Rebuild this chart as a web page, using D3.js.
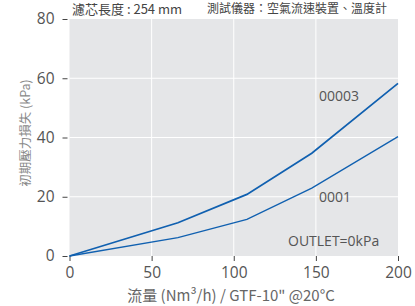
<!DOCTYPE html>
<html><head><meta charset="utf-8">
<script src="https://cdn.jsdelivr.net/npm/d3@7"></script>
<style>
body{margin:0;background:#fff;}
svg{display:block;}
</style></head>
<body>
<svg id="c" width="415" height="306"></svg>
<script>
const flow = [0, 66, 108, 147.5, 200];
const series00003 = [0, 11.2, 20.8, 34.7, 58.3];
const series0001 = [0, 6.2, 12.4, 22.9, 40.3];
const xTicks = [0, 50, 100, 150, 200];
const yTicks = [0, 20, 40, 60, 80];
const seriesNames = ["00003", "0001"];

const svg = d3.select("#c");
const x = d3.scaleLinear().domain([0, 200]).range([69.5, 398]);
const y = d3.scaleLinear().domain([0, 80]).range([256, 19]);
const numFont = "'Liberation Sans Narrow','Open Sans',sans-serif";
const cjk = "'Noto Sans CJK TC','Noto Sans',sans-serif";

svg.append("rect").attr("x", x(0)).attr("y", y(80))
  .attr("width", x(200) - x(0)).attr("height", y(0) - y(80)).attr("fill", "#e5e6e8");

// grid
svg.append("g").selectAll("line").data(xTicks.slice(1, -1)).join("line")
  .attr("x1", d => x(d)).attr("x2", d => x(d)).attr("y1", y(0)).attr("y2", y(80))
  .attr("stroke", "#fff").attr("stroke-width", 1);
svg.append("g").selectAll("line").data(yTicks.slice(1, -1)).join("line")
  .attr("x1", x(0)).attr("x2", x(200)).attr("y1", d => y(d)).attr("y2", d => y(d))
  .attr("stroke", "#fff").attr("stroke-width", 1);

// axes
const xAxis = svg.append("g").attr("transform", `translate(0,${y(0)})`)
  .call(d3.axisBottom(x).tickValues(xTicks).tickSize(5).tickPadding(6));
const yAxis = svg.append("g").attr("transform", `translate(${x(0) - 2},0)`)
  .call(d3.axisLeft(y).tickValues(yTicks).tickSize(5).tickPadding(8));
[xAxis, yAxis].forEach(a => {
  a.select(".domain").remove();
  a.selectAll(".tick line").attr("stroke", "#444");
  a.selectAll(".tick text").attr("fill", "#555").style("font-family", numFont).style("font-size", "15.5px");
});

// lines
const line = d3.line().x((d, i) => x(flow[i])).y(d => y(d));
svg.append("path").datum(series00003).attr("d", line)
  .attr("fill", "none").attr("stroke", "#1060b0").attr("stroke-width", 1.7);
svg.append("path").datum(series0001).attr("d", line)
  .attr("fill", "none").attr("stroke", "#1060b0").attr("stroke-width", 1.3);

// labels inside
const lab = (t, px, py) => svg.append("text").attr("x", px).attr("y", py).text(t)
  .attr("fill", "#555").style("font-family", "'Open Sans','Noto Sans',sans-serif").style("font-size", "14px");
lab(seriesNames[0], 319, 101);
lab(seriesNames[1], 319, 202);
lab("OUTLET=0kPa", 288, 246);

// titles
svg.append("text").attr("transform", "translate(26,133) rotate(-90)").attr("text-anchor", "middle")
  .attr("dy", "0.35em").attr("fill", "#888").style("font-family", cjk).style("font-size", "12.5px")
  .text("初期壓力損失 (kPa)");
svg.append("text").attr("x", 231).attr("y", 301).attr("text-anchor", "middle")
  .attr("fill", "#666").style("font-family", cjk).style("font-size", "15px")
  .text("流量 (Nm³/h) / GTF-10\" @20°C");
svg.append("text").attr("x", 72).attr("y", 14).attr("fill", "#444")
  .style("font-family", cjk).style("font-size", "13px").text("濾芯長度 : 254 mm");
svg.append("text").attr("x", 207).attr("y", 13).attr("fill", "#444")
  .style("font-family", cjk).style("font-size", "12px").text("測試儀器：空氣流速裝置、溫度計");
</script>
</body></html>
